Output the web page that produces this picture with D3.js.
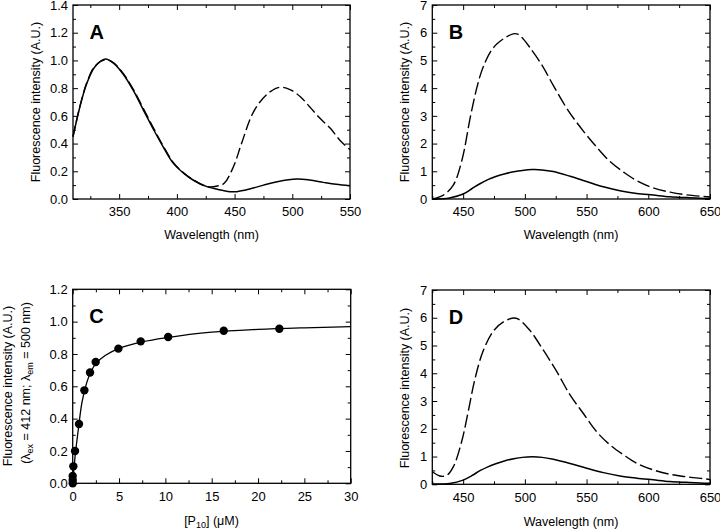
<!DOCTYPE html>
<html><head><meta charset="utf-8">
<script src="https://cdn.jsdelivr.net/npm/d3@7"></script>
<style>
body{margin:0;background:#fff}
svg{display:block}
text{font-family:Arial,"Liberation Sans",sans-serif;fill:#000}
</style>
</head><body>
<svg id="c" width="720" height="530"></svg>
<script>
// ---------- DATA ----------
// Panel A
const aWave = [310, 316, 322, 329, 338, 345, 354, 362, 371, 380, 388, 397, 406, 414, 426, 435, 446, 452, 463, 475, 487, 504, 515, 527, 538, 550];
const aSolid = [0.45, 0.666, 0.835, 0.955, 1.01, 0.98, 0.895, 0.787, 0.642, 0.498, 0.378, 0.257, 0.185, 0.137, 0.089, 0.07, 0.053, 0.053, 0.072, 0.10, 0.125, 0.144, 0.137, 0.12, 0.106, 0.096];
const aDashWave = [310, 316, 322, 329, 338, 345, 354, 362, 371, 380, 388, 397, 406, 414, 426, 435, 441, 449, 456, 465, 472, 481, 489, 498, 507, 515, 524, 533, 541, 550];
const aDashed = [0.45, 0.67, 0.84, 0.958, 1.005, 0.985, 0.9, 0.795, 0.652, 0.508, 0.385, 0.262, 0.188, 0.14, 0.09, 0.094, 0.113, 0.233, 0.40, 0.606, 0.70, 0.775, 0.806, 0.79, 0.738, 0.666, 0.582, 0.51, 0.426, 0.355];
// Panel B
const bDashWave = [425, 434, 442, 449, 456, 461, 464.5, 468, 472, 477, 484, 490.6, 494.7, 499, 504, 513.6, 523, 535, 547.4, 558, 569, 580, 590.6, 604, 617.6, 631, 647.4, 650];
const bDashed = [0, 0.14, 0.5, 1.4, 3.0, 4.0, 4.55, 4.95, 5.3, 5.58, 5.82, 5.96, 5.94, 5.76, 5.47, 4.85, 4.1, 3.2, 2.45, 1.88, 1.35, 0.97, 0.66, 0.4, 0.25, 0.15, 0.08, 0.07];
const bSolidWave = [425, 439, 450, 457, 463.6, 470, 477, 484, 491, 498, 506, 514, 523, 536.6, 550, 563.6, 577, 590.6, 604, 617.6, 631, 647, 650];
const bSolid = [0, 0.04, 0.18, 0.37, 0.55, 0.70, 0.82, 0.91, 0.98, 1.03, 1.06, 1.05, 0.99, 0.82, 0.63, 0.44, 0.3, 0.2, 0.14, 0.08, 0.05, 0.02, 0.02];
// Panel C
const cConc = [0, 0, 0, 0.07, 0.25, 0.68, 1.26, 1.87, 2.48, 4.93, 7.34, 10.3, 16.3, 22.3];
const cFluor = [0, 0.02, 0.045, 0.105, 0.2, 0.367, 0.575, 0.685, 0.75, 0.833, 0.878, 0.905, 0.944, 0.956];
const cFitX = [0, 0.1, 0.3, 0.6, 1.0, 1.5, 2.0, 2.5, 3.5, 5, 7.5, 10, 15, 20, 25, 30];
const cFitY = [0, 0.07, 0.19, 0.33, 0.5, 0.62, 0.695, 0.74, 0.79, 0.835, 0.875, 0.9, 0.935, 0.952, 0.962, 0.969];
// Panel D
const dDashWave = [425, 431, 436.6, 442, 448.8, 454, 459.6, 466.4, 475, 482.6, 490.6, 494.7, 504, 515, 526, 536.6, 547.4, 558, 569, 580, 590.6, 604, 617.6, 631, 647, 650];
const dDashed = [0.46, 0.3, 0.32, 0.63, 1.54, 2.6, 3.8, 4.83, 5.55, 5.85, 5.99, 5.95, 5.55, 4.83, 4.05, 3.22, 2.55, 1.9, 1.42, 1.06, 0.76, 0.52, 0.36, 0.27, 0.19, 0.17];
const dSolidWave = [425, 439, 450, 457, 463.6, 470, 477, 484, 491, 498, 506, 514, 523, 536.6, 550, 563.6, 577, 590.6, 604, 617.6, 631, 647, 650];
const dSolid = [0.01, 0.03, 0.15, 0.31, 0.49, 0.63, 0.75, 0.85, 0.92, 0.97, 0.99, 0.97, 0.9, 0.75, 0.58, 0.42, 0.3, 0.22, 0.16, 0.1, 0.07, 0.04, 0.04];

// Ticks
const waveMajorA = [350, 400, 450, 500, 550];
const waveMinorA = [325, 375, 425, 475, 525];
const waveMajorB = [450, 500, 550, 600, 650];
const waveMinorB = [425, 475, 525, 575, 625];
const fracMajor = [0, 0.2, 0.4, 0.6, 0.8, 1.0, 1.2, 1.4];
const fracMinor = [0.1, 0.3, 0.5, 0.7, 0.9, 1.1, 1.3];
const fracMajorC = [0, 0.2, 0.4, 0.6, 0.8, 1.0, 1.2];
const fracMinorC = [0.1, 0.3, 0.5, 0.7, 0.9, 1.1];
const intMajor = [0, 1, 2, 3, 4, 5, 6, 7];
const intMinor = [0.5, 1.5, 2.5, 3.5, 4.5, 5.5, 6.5];
const concMajor = [0, 5, 10, 15, 20, 25, 30];
const concMinor = [2.5, 7.5, 12.5, 17.5, 22.5, 27.5];

const yTitle = "Fluorescence intensity (A.U.)";
const xTitle = "Wavelength (nm)";

// ---------- DRAW ----------
const svg = d3.select('#c');
svg.append('rect').attr('width', 720).attr('height', 530).attr('fill', '#fff');

function zip(a, b) { return a.map((v, i) => [v, b[i]]); }

function panel(o) {
  const x = d3.scaleLinear().domain(o.xDomain).range([o.left, o.right]);
  const y = d3.scaleLinear().domain(o.yDomain).range([o.bottom, o.top]);
  const g = svg.append('g');
  const strip = s => s.call(s => s.select('.domain').remove());
  const fs = '13px';
  strip(g.append('g').attr('transform', `translate(0,${o.bottom})`)
    .call(d3.axisBottom(x).tickValues(o.xMajor).tickSize(-5).tickPadding(8).tickFormat(o.xFmt)))
    .selectAll('text').style('font-size', fs);
  strip(g.append('g').attr('transform', `translate(0,${o.bottom})`)
    .call(d3.axisBottom(x).tickValues(o.xMinor).tickSize(-3).tickFormat('')));
  strip(g.append('g').attr('transform', `translate(0,${o.top})`)
    .call(d3.axisTop(x).tickValues(o.xMajor).tickSize(-5).tickFormat('')));
  strip(g.append('g').attr('transform', `translate(0,${o.top})`)
    .call(d3.axisTop(x).tickValues(o.xMinor).tickSize(-3).tickFormat('')));
  strip(g.append('g').attr('transform', `translate(${o.left},0)`)
    .call(d3.axisLeft(y).tickValues(o.yMajor).tickSize(-5).tickPadding(5).tickFormat(o.yFmt)))
    .selectAll('text').style('font-size', fs);
  strip(g.append('g').attr('transform', `translate(${o.left},0)`)
    .call(d3.axisLeft(y).tickValues(o.yMinor).tickSize(-3).tickFormat('')));
  strip(g.append('g').attr('transform', `translate(${o.right},0)`)
    .call(d3.axisRight(y).tickValues(o.yMajor).tickSize(-5).tickFormat('')));
  strip(g.append('g').attr('transform', `translate(${o.right},0)`)
    .call(d3.axisRight(y).tickValues(o.yMinor).tickSize(-3).tickFormat('')));
  g.selectAll('.tick line').attr('stroke', '#000').attr('stroke-width', 1);
  g.selectAll('.tick text').attr('fill', '#000');
  g.append('rect').attr('x', o.left).attr('y', o.top)
    .attr('width', o.right - o.left).attr('height', o.bottom - o.top)
    .attr('fill', 'none').attr('stroke', '#000').attr('stroke-width', 1.3);
  g.append('text').attr('x', o.left + 16.5).attr('y', o.top + 33.5)
    .style('font-size', '20px').style('font-weight', 'bold').text(o.letter);
  return {g, x, y};
}

const lineGen = (x, y) => d3.line().x(d => x(d[0])).y(d => y(d[1])).curve(d3.curveCatmullRom.alpha(0.5));

function addYTitle(g, bx, cy, txt) {
  g.append('text').attr('transform', `translate(${bx},${cy}) rotate(-90)`)
    .attr('text-anchor', 'middle').style('font-size', '12.5px').text(txt);
}
function addXTitle(g, cx, by, txt) {
  g.append('text').attr('x', cx).attr('y', by).attr('text-anchor', 'middle')
    .style('font-size', '12.5px').text(txt);
}

const f1 = d3.format('.1f');
const f0 = d3.format('d');

// Panel A
{
  const p = panel({left: 73, right: 350, top: 5, bottom: 199, xDomain: [310, 550], yDomain: [0, 1.4],
    xMajor: waveMajorA, xMinor: waveMinorA, yMajor: fracMajor, yMinor: fracMinor, xFmt: f0, yFmt: f1, letter: 'A'});
  p.g.append('path').datum(zip(aDashWave, aDashed)).attr('d', lineGen(p.x, p.y))
    .attr('fill', 'none').attr('stroke', '#000').attr('stroke-width', 1.4).attr('stroke-dasharray', '11,4');
  p.g.append('path').datum(zip(aWave, aSolid)).attr('d', lineGen(p.x, p.y))
    .attr('fill', 'none').attr('stroke', '#000').attr('stroke-width', 1.5);
  addYTitle(p.g, 39.5, 102, yTitle);
  addXTitle(p.g, 211.5, 239, xTitle);
}
// Panel B
{
  const p = panel({left: 432.3, right: 710, top: 5, bottom: 199, xDomain: [425, 650], yDomain: [0, 7],
    xMajor: waveMajorB, xMinor: waveMinorB, yMajor: intMajor, yMinor: intMinor, xFmt: f0, yFmt: f0, letter: 'B'});
  p.g.append('path').datum(zip(bDashWave, bDashed)).attr('d', lineGen(p.x, p.y))
    .attr('fill', 'none').attr('stroke', '#000').attr('stroke-width', 1.4).attr('stroke-dasharray', '13,4');
  p.g.append('path').datum(zip(bSolidWave, bSolid)).attr('d', lineGen(p.x, p.y))
    .attr('fill', 'none').attr('stroke', '#000').attr('stroke-width', 1.5);
  addYTitle(p.g, 408.5, 102, yTitle);
  addXTitle(p.g, 571, 239, xTitle);
}
// Panel C
{
  const p = panel({left: 72.7, right: 350.7, top: 289.3, bottom: 483.3, xDomain: [0, 30], yDomain: [0, 1.2],
    xMajor: concMajor, xMinor: concMinor, yMajor: fracMajorC, yMinor: fracMinorC, xFmt: f0, yFmt: f1, letter: 'C'});
  p.g.append('path').datum(zip(cFitX, cFitY)).attr('d', lineGen(p.x, p.y))
    .attr('fill', 'none').attr('stroke', '#000').attr('stroke-width', 1.3);
  p.g.selectAll('circle.pt').data(zip(cConc, cFluor)).enter().append('circle')
    .attr('cx', d => p.x(d[0])).attr('cy', d => p.y(d[1])).attr('r', 4.2).attr('fill', '#000');
  addYTitle(p.g, 12, 386, yTitle);
  const t = p.g.append('text').attr('transform', 'translate(30,383) rotate(-90)')
    .attr('text-anchor', 'middle').style('font-size', '12.5px');
  t.append('tspan').text('(λ');
  t.append('tspan').attr('dy', 3).style('font-size', '9px').text('ex');
  t.append('tspan').attr('dy', -3).text(' = 412 nm; λ');
  t.append('tspan').attr('dy', 3).style('font-size', '9px').text('em');
  t.append('tspan').attr('dy', -3).text(' = 500 nm)');
  const xt = p.g.append('text').attr('x', 211.5).attr('y', 525).attr('text-anchor', 'middle').style('font-size', '12.5px');
  xt.append('tspan').text('[P');
  xt.append('tspan').attr('dy', 3).style('font-size', '9px').text('10');
  xt.append('tspan').attr('dy', -3).text('] (μM)');
}
// Panel D
{
  const p = panel({left: 432.3, right: 710, top: 290, bottom: 484.3, xDomain: [425, 650], yDomain: [0, 7],
    xMajor: waveMajorB, xMinor: waveMinorB, yMajor: intMajor, yMinor: intMinor, xFmt: f0, yFmt: f0, letter: 'D'});
  p.g.append('path').datum(zip(dDashWave, dDashed)).attr('d', lineGen(p.x, p.y))
    .attr('fill', 'none').attr('stroke', '#000').attr('stroke-width', 1.4).attr('stroke-dasharray', '13,4');
  p.g.append('path').datum(zip(dSolidWave, dSolid)).attr('d', lineGen(p.x, p.y))
    .attr('fill', 'none').attr('stroke', '#000').attr('stroke-width', 1.5);
  addYTitle(p.g, 408.5, 388, yTitle);
  addXTitle(p.g, 571, 526, xTitle);
}
</script>
</body></html>
